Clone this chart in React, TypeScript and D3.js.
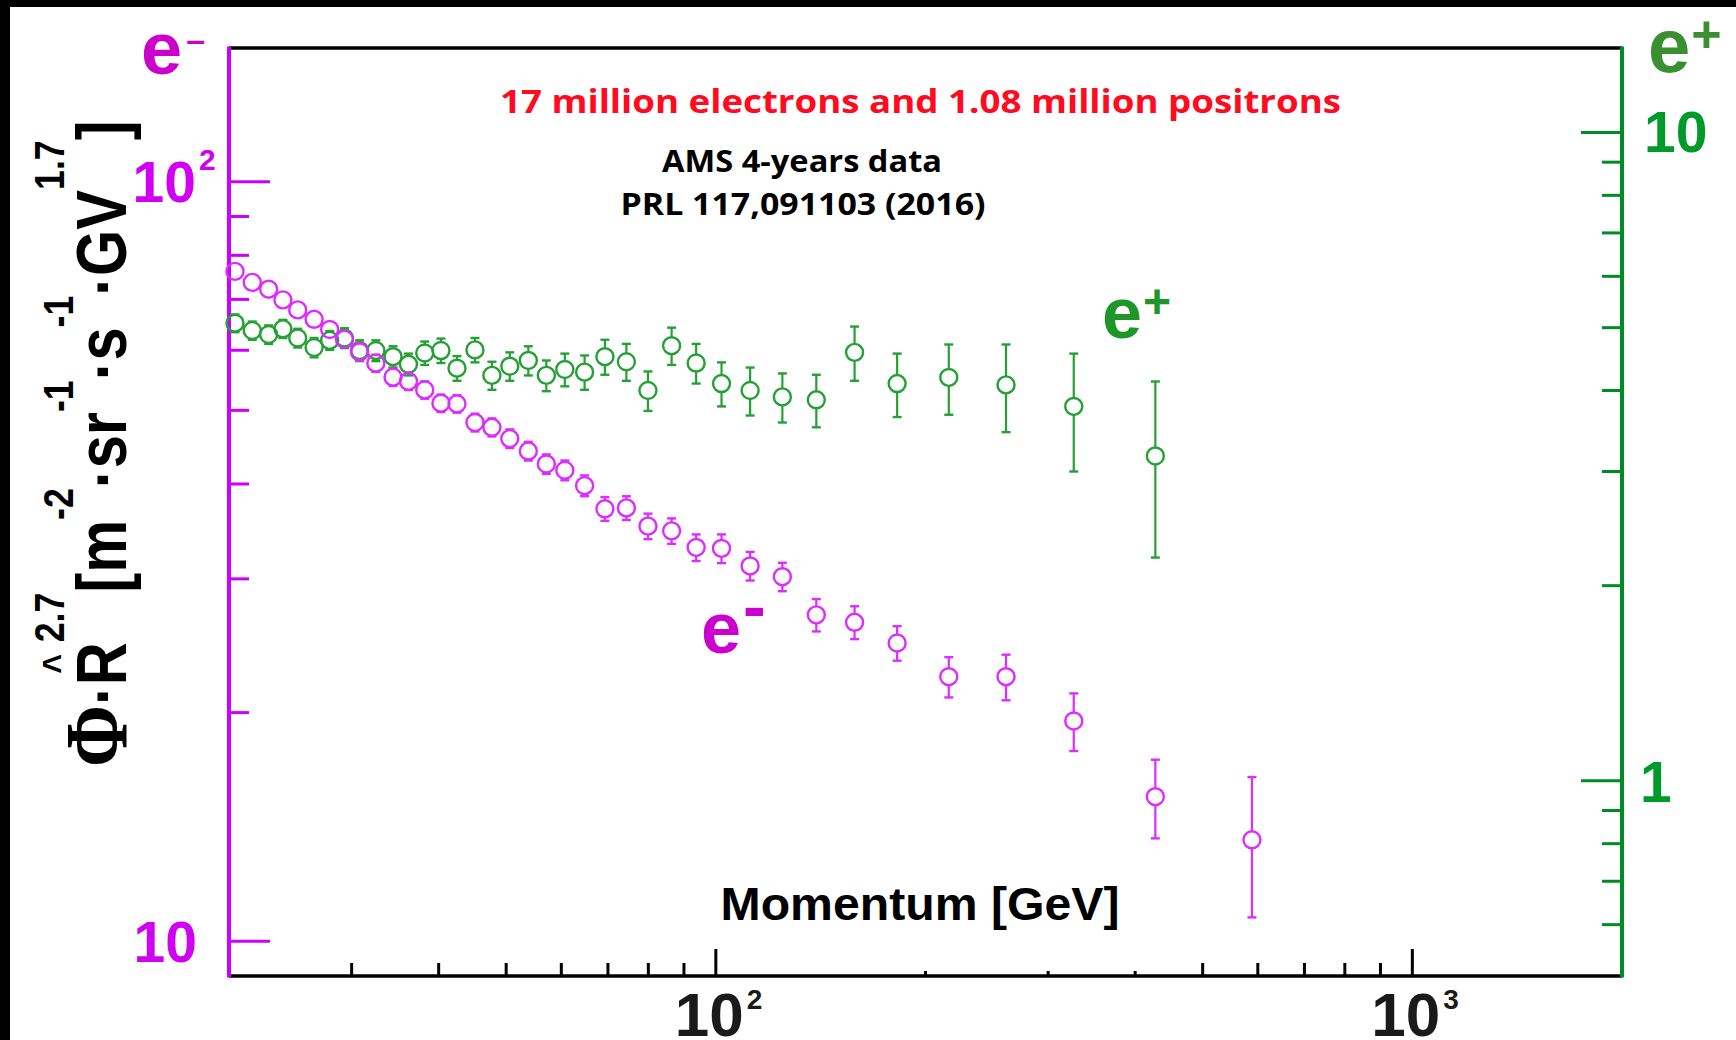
import React from "react";
import * as d3 from "d3";

// Momentum bin centres [GeV]
const momentum = [
  20.4, 21.6, 22.8, 23.9, 25.1, 26.5, 27.9, 29.3, 30.8, 32.5, 34.4, 36.2, 38.2,
  40.3, 42.5, 45.1, 47.7, 50.6, 53.8, 57.1, 60.7, 64.8, 69.3, 74.4, 79.9, 86.4,
  93.7, 101.9, 112.0, 124.6, 139.4, 158.2, 182.1, 216.0, 261.0, 326.5, 427.6,
  588.5,
];

// Electron flux x R^2.7 (left axis)
const electronFlux = [
  76.2, 73.7, 72.2, 69.9, 67.8, 65.9, 63.9, 62.0, 59.7, 57.7, 55.3, 54.6, 53.2,
  51.1, 51.0, 48.2, 47.5, 45.9, 44.2, 42.5, 41.7, 39.8, 37.1, 37.2, 35.2, 34.7,
  33.0, 32.9, 31.2, 30.2, 26.9, 26.3, 24.7, 22.3, 22.3, 19.5, 15.5, 13.6,
];
const electronErr = [
  1.4, 1.3, 1.3, 1.3, 1.2, 1.2, 1.2, 1.1, 1.55, 1.5, 1.45, 1.42, 1.4, 1.35,
  1.35, 1.3, 1.3, 1.3, 1.25, 1.25, 1.25, 1.25, 1.34, 1.34, 1.36, 1.34, 1.33,
  1.43, 1.35, 1.3, 1.32, 1.31, 1.29, 1.36, 1.54, 1.7, 1.84, 2.85,
];

// Positron flux x R^2.7 (right axis)
const positronFlux = [
  5.08, 4.95, 4.88, 4.98, 4.82, 4.66, 4.78, 4.82, 4.61, 4.61, 4.51, 4.39, 4.57,
  4.61, 4.33, 4.62, 4.22, 4.36, 4.45, 4.22, 4.31, 4.27, 4.51, 4.43, 4.0, 4.69,
  4.41, 4.1, 4.0, 3.91, 3.87, 4.58, 4.1, 4.19, 4.08, 3.78, 3.17,
];
const positronErr = [
  0.16, 0.16, 0.16, 0.16, 0.16, 0.16, 0.16, 0.17, 0.17, 0.17, 0.17, 0.17, 0.19,
  0.2, 0.19, 0.2, 0.21, 0.22, 0.23, 0.23, 0.25, 0.26, 0.28, 0.29, 0.28, 0.31,
  0.31, 0.32, 0.34, 0.34, 0.36, 0.44, 0.46, 0.52, 0.63, 0.78, 0.96,
];

// Axis ticks
const xMajorTicks = [100, 1000];
const xMinorTicks = [30, 40, 50, 60, 70, 80, 90, 500, 600, 700, 800, 900];
const xStubTicks = [200, 300, 400];
const xTickExponents = ["2", "3"];
const leftMajorTicks = [10, 100];
const leftMinorTicks = [20, 30, 40, 50, 60, 70, 80, 90];
const rightMajorTicks = [1, 10];
const rightMinorTicks = [0.6, 0.7, 0.8, 0.9, 2, 3, 4, 5, 6, 7, 8, 9];

const W = 1736;
const H = 1040;
const L = 229;
const R = 1622;
const T = 48;
const B = 976;

const HELV = "'Liberation Sans', Arial, Helvetica, sans-serif";
const CAL = "'Open Sans', Lato, sans-serif";

const MAGENTA_AXIS = "#cc00ff";
const MAGENTA_TEXT = "#d000f0";
const MAGENTA_E = "#cc00cc";
const MAGENTA_MARK = "#dd2cff";
const GREEN_AXIS = "#008c25";
const GREEN_TEXT = "#009a2a";
const GREEN_MARK = "#25a035";

const MARK_R = 8.5;

type Pt = { x: number; v: number; e: number };

function Series({
  pts,
  y,
  color,
}: {
  pts: Pt[];
  y: d3.ScaleLogarithmic<number, number>;
  color: string;
}) {
  return (
    <g stroke={color} fill="none">
      {pts.map((p, i) => {
        const yc = y(p.v);
        const yt = y(p.v + p.e);
        const yb = y(p.v - p.e);
        const showTop = yc - yt >= MARK_R * 0.85;
        const showBot = yb - yc >= MARK_R * 0.85;
        return (
          <g key={i}>
            {yc - yt > MARK_R && (
              <line x1={p.x} x2={p.x} y1={yc - MARK_R} y2={yt} strokeWidth={2.2} />
            )}
            {yb - yc > MARK_R && (
              <line x1={p.x} x2={p.x} y1={yc + MARK_R} y2={yb} strokeWidth={2.2} />
            )}
            {showTop && (
              <line x1={p.x - 4.5} x2={p.x + 4.5} y1={yt} y2={yt} strokeWidth={2.4} />
            )}
            {showBot && (
              <line x1={p.x - 4.5} x2={p.x + 4.5} y1={yb} y2={yb} strokeWidth={2.4} />
            )}
            <circle cx={p.x} cy={yc} r={MARK_R} strokeWidth={2.4} />
          </g>
        );
      })}
    </g>
  );
}

export default function App() {
  const x = d3.scaleLog().domain([20, 2000]).range([L, R]);
  const yL = d3.scaleLog().domain([9, 150]).range([B, T]);
  const yR = d3.scaleLog().domain([0.5, 13.5]).range([B, T]);

  const electrons: Pt[] = momentum.map((m, i) => ({
    x: x(m),
    v: electronFlux[i],
    e: electronErr[i],
  }));
  const positrons: Pt[] = positronFlux.map((v, i) => ({
    x: x(momentum[i]),
    v,
    e: positronErr[i],
  }));

  return (
    <div style={{ position: "absolute", left: 0, top: 0 }}>
      <svg width={W} height={H} viewBox={`0 0 ${W} ${H}`} style={{ display: "block" }}>
        <rect x={0} y={0} width={W} height={H} fill="#fff" />
        <rect x={0} y={0} width={W} height={7} fill="#000" />
        <rect x={0} y={0} width={10} height={H} fill="#000" />

        {/* frame */}
        <line x1={L} x2={R} y1={T} y2={T} stroke="#000" strokeWidth={3.5} />
        <line x1={L} x2={R} y1={B} y2={B} stroke="#000" strokeWidth={3.5} />

        {/* x ticks */}
        <g stroke="#000" strokeWidth={3}>
          {xMajorTicks.map((t) => (
            <line key={t} x1={x(t)} x2={x(t)} y1={B} y2={B - 27} />
          ))}
          {xMinorTicks.map((t) => (
            <line key={t} x1={x(t)} x2={x(t)} y1={B} y2={B - 13} />
          ))}
          {xStubTicks.map((t) => (
            <line key={t} x1={x(t)} x2={x(t)} y1={B} y2={B - 5} />
          ))}
        </g>
        <g fontFamily={HELV} fontWeight="bold" fill="#1a1a1a">
          {xMajorTicks.map((t, i) => (
            <g key={t}>
              <text x={x(t) + 28} y={1036} fontSize={62} textAnchor="end">
                10
              </text>
              <text x={x(t) + 31} y={1009} fontSize={28}>
                {xTickExponents[i]}
              </text>
            </g>
          ))}
        </g>

        {/* left axis (electrons) */}
        <line x1={L} x2={L} y1={T - 1.5} y2={B + 1.5} stroke={MAGENTA_AXIS} strokeWidth={4} />
        <g stroke={MAGENTA_AXIS} strokeWidth={3}>
          {leftMajorTicks.map((t) => (
            <line key={t} x1={L} x2={L + 41} y1={yL(t)} y2={yL(t)} />
          ))}
          {leftMinorTicks.map((t) => (
            <line key={t} x1={L} x2={L + 20} y1={yL(t)} y2={yL(t)} />
          ))}
        </g>
        <g fontFamily={HELV} fontWeight="bold" fill={MAGENTA_TEXT}>
          <text x={196} y={yL(100) + 20} fontSize={57} textAnchor="end">
            10
          </text>
          <text x={199} y={yL(100) - 12} fontSize={30}>
            2
          </text>
          <text x={197} y={yL(10) + 21} fontSize={57} textAnchor="end">
            10
          </text>
        </g>

        {/* right axis (positrons) */}
        <line x1={R} x2={R} y1={T - 1.5} y2={B + 1.5} stroke={GREEN_AXIS} strokeWidth={4} />
        <g stroke={GREEN_AXIS} strokeWidth={3}>
          {rightMajorTicks.map((t) => (
            <line key={t} x1={R} x2={R - 41} y1={yR(t)} y2={yR(t)} />
          ))}
          {rightMinorTicks.map((t) => (
            <line key={t} x1={R} x2={R - 20} y1={yR(t)} y2={yR(t)} />
          ))}
        </g>
        <g fontFamily={HELV} fontWeight="bold" fill={GREEN_TEXT}>
          <text x={1644} y={yR(10) + 20} fontSize={57}>
            10
          </text>
          <text x={1640} y={yR(1) + 21} fontSize={57}>
            1
          </text>
        </g>

        {/* particle labels at the axis tops */}
        <text x={141} y={74} fontFamily={HELV} fontWeight="bold" fontSize={74} fill={MAGENTA_E}>
          e
          <tspan fontSize={34} dx={4} y={51}>
            –
          </tspan>
        </text>
        <text x={1648} y={72} fontFamily={HELV} fontWeight="bold" fontSize={76} fill="#3a8f30">
          e
          <tspan fontSize={52} dx={1} y={52}>
            +
          </tspan>
        </text>

        {/* data */}
        <Series pts={positrons} y={yR} color={GREEN_MARK} />
        <Series pts={electrons} y={yL} color={MAGENTA_MARK} />

        {/* in-plot labels */}
        <text x={701} y={653} fontFamily={HELV} fontWeight="bold" fontSize={72} fill={MAGENTA_E}>
          e
          <tspan fontSize={68} dx={2} y={630}>
            -
          </tspan>
        </text>
        <text x={1102} y={338} fontFamily={HELV} fontWeight="bold" fontSize={72} fill="#1f9628">
          e
          <tspan fontSize={48} dx={1} y={318}>
            +
          </tspan>
        </text>

        {/* annotations */}
        <text
          x={920.5}
          y={113}
          textAnchor="middle"
          fontFamily={CAL}
          fontWeight="bold"
          fontSize={33}
          fill="#ff0a1e"
          textLength={841}
          lengthAdjust="spacingAndGlyphs"
        >
          17 million electrons and 1.08 million positrons
        </text>
        <text
          x={802}
          y={172}
          textAnchor="middle"
          fontFamily={CAL}
          fontWeight="bold"
          fontSize={30}
          fill="#000"
          textLength={280}
          lengthAdjust="spacingAndGlyphs"
        >
          AMS 4-years data
        </text>
        <text
          x={803}
          y={215}
          textAnchor="middle"
          fontFamily={CAL}
          fontWeight="bold"
          fontSize={30}
          fill="#000"
          textLength={365}
          lengthAdjust="spacingAndGlyphs"
        >
          PRL 117,091103 (2016)
        </text>

        {/* x axis title */}
        <text
          x={720.5}
          y={920}
          fontFamily={HELV}
          fontWeight="bold"
          fontSize={46.5}
          fill="#000"
          textLength={399}
          lengthAdjust="spacingAndGlyphs"
        >
          Momentum [GeV]
        </text>

        {/* y axis title */}
        <g transform="translate(126,767) rotate(-90) scale(0.85,1)">
          <text x={0} y={0} fontFamily={HELV} fontWeight="bold" fontSize={70} fill="#000">
            <tspan fontFamily="'Liberation Serif', 'Times New Roman', serif" fontSize={88}>
              Φ
            </tspan>
            <tspan>·R</tspan>
            <tspan fontSize={40} dx={-37} y={-55}>
              ^
            </tspan>
            <tspan fontSize={42} dx={13.6} y={-62}>
              2.7
            </tspan>
            <tspan y={0}>[m</tspan>
            <tspan fontSize={42} y={-53}>
              -2
            </tspan>
            <tspan y={0}>·sr</tspan>
            <tspan fontSize={42} y={-53}>
              -1
            </tspan>
            <tspan y={0}>·s</tspan>
            <tspan fontSize={42} y={-53}>
              -1
            </tspan>
            <tspan y={0}>·GV</tspan>
            <tspan fontSize={42} y={-62}>
              1.7
            </tspan>
            <tspan y={0}>]</tspan>
          </text>
        </g>
      </svg>
    </div>
  );
}
